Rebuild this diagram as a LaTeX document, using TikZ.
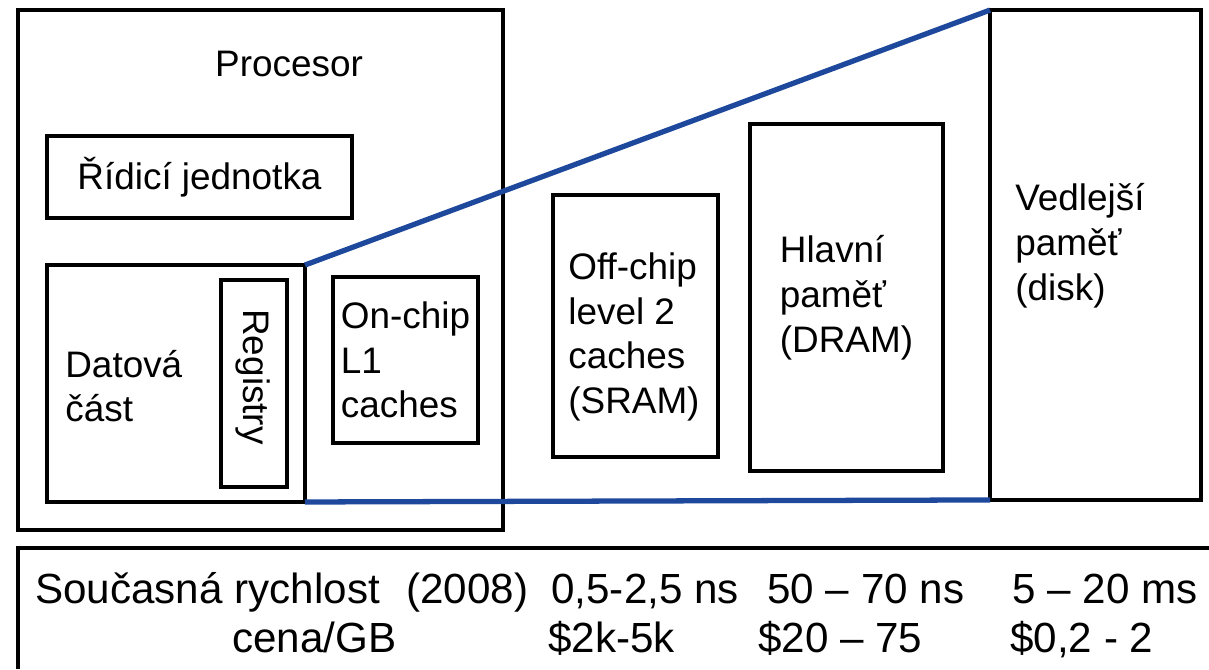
\documentclass[tikz,border=0pt]{standalone}
\usepackage{fontspec}
\setmainfont{Liberation Sans}
\usetikzlibrary{positioning}
\definecolor{modra}{RGB}{30,72,155}
\tikzset{
  blok/.style={draw, line width=1.8pt, inner sep=0pt, outer sep=0pt},
  popis/.style={inner sep=0pt, align=left, font=\fontsize{21}{25.5}\selectfont},
  spodni/.style={inner sep=0pt, anchor=base west, font=\fontsize{24}{28}\selectfont},
  hrana/.style={draw=modra, line width=3pt}
}
\begin{document}
\begin{tikzpicture}[x=0.02cm,y=-0.02cm]
  \useasboundingbox (0,0) rectangle (1209,669);
  % procesor a jeho casti
  \node[blok, minimum width=9.7cm, minimum height=10.4cm] (proc) at (260.5,270) {};
  \node[popis] (proct) at (289,64) {Procesor};
  \node[blok, popis, minimum width=6.1cm, minimum height=1.64cm] (ridic) at (199.5,177) {Řídicí jednotka};
  \node[blok, minimum width=5.16cm, minimum height=4.74cm] (dat) at (176,383.5) {};
  \node[popis, anchor=west] (datt) at (65,386) {Datová\\část};
  \node[blok, minimum width=1.32cm, minimum height=4.14cm] (reg) at (254,383.5) {};
  \node[popis, rotate=-90] (regt) at (253,377) {Registry};
  \node[blok, popis, minimum width=2.9cm, minimum height=3.32cm] (l1) at (405.5,360) {On-chip\\L1\\caches};
    % pameti mimo cip
  \node[blok, minimum width=3.3cm, minimum height=5.24cm] (l2) at (635.5,326) {};
  \node[popis, anchor=west] (l2t) at (568,337) {Off-chip\\level 2\\caches\\(SRAM)};
  \node[blok, popis, minimum width=3.86cm, minimum height=6.94cm] (ram) at (846.5,297.5) {Hlavní\\paměť\\(DRAM)};
  \node[blok, minimum width=4.22cm, minimum height=9.8cm] (disk) at (1095.5,255) {};
  \node[popis, anchor=west] (diskt) at (1015,246) {Vedlejší\\paměť\\(disk)};
  % modre hrany
  \draw[hrana] (dat.north east) -- (disk.north west);
  \draw[hrana] (dat.south east) -- (disk.south west);
  % tabulka dole
  \coordinate (tl) at (18,548);
  \coordinate (bl) at (18,669);
  \coordinate (tr) at (1209,548);
  \draw[line width=1.8pt] (bl) -- (tl) -- (tr);
  \node[spodni] (r1a) at (35,603) {Současná rychlost};
  \node[spodni] (r1b) at (406,603) {(2008)};
  \node[spodni] (r1c) at (551,603) {0,5-2,5 ns};
  \node[spodni] (r1d) at (767,603) {50 – 70 ns};
  \node[spodni] (r1e) at (1012,603) {5 – 20 ms};
  \node[spodni] (r2a) at (232,652) {cena/GB};
  \node[spodni] (r2b) at (548,652) {\$2k-5k};
  \node[spodni] (r2c) at (758,652) {\$20 – 75};
  \node[spodni] (r2d) at (1010,652) {\$0,2 - 2};
\end{tikzpicture}
\end{document}
